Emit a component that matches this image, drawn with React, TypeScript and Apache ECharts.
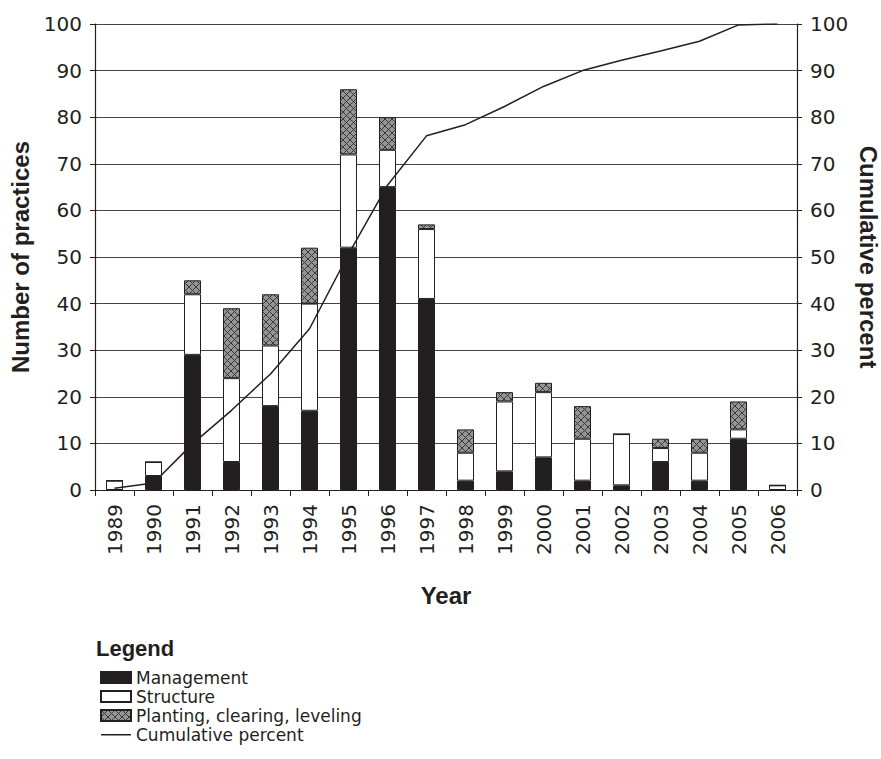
import React, { useEffect, useRef } from "react";
import * as echarts from "echarts";

const years = ["1989","1990","1991","1992","1993","1994","1995","1996","1997","1998","1999","2000","2001","2002","2003","2004","2005","2006"];
const management = [0, 3, 29, 6, 18, 17, 52, 65, 41, 2, 4, 7, 2, 1, 6, 2, 11, 0];
const structure = [2, 3, 13, 18, 13, 23, 20, 8, 15, 6, 15, 14, 9, 11, 3, 6, 2, 1];
const planting = [0, 0, 3, 15, 11, 12, 14, 7, 1, 5, 2, 2, 7, 0, 2, 3, 6, 0];
const cumulativePercent = [0.4, 1.5, 9.9, 17.1, 24.9, 34.6, 50.6, 65.4, 76.0, 78.4, 82.3, 86.6, 90.0, 92.2, 94.2, 96.3, 99.8, 100];
const yTicks = [0, 10, 20, 30, 40, 50, 60, 70, 80, 90, 100];

function makeHatch(): HTMLCanvasElement {
  const c = document.createElement("canvas");
  const s = 7;
  c.width = s;
  c.height = s;
  const ctx = c.getContext("2d")!;
  ctx.fillStyle = "#959595";
  ctx.fillRect(0, 0, s, s);
  ctx.strokeStyle = "#3a3a3a";
  ctx.lineWidth = 1;
  ctx.beginPath();
  ctx.moveTo(0, 0);
  ctx.lineTo(s, s);
  ctx.moveTo(s, 0);
  ctx.lineTo(0, s);
  ctx.stroke();
  return c;
}

export default function App() {
  const ref = useRef<HTMLDivElement>(null);
  useEffect(() => {
    if (!ref.current) return;
    const chart = echarts.init(ref.current, undefined, { renderer: "svg" });
    const ink = "#231f20";
    const tickFont = "DejaVu Sans";
    const titleFont = "Liberation Sans";
    const hatch = makeHatch();
    const yAxisBase = {
      type: "value" as const,
      min: yTicks[0],
      max: yTicks[yTicks.length - 1],
      interval: 10,
      nameLocation: "middle" as const,
      nameTextStyle: { fontFamily: titleFont, fontWeight: "bold" as const, fontSize: 24, color: ink },
      axisLine: { show: true, lineStyle: { color: ink, width: 1.2 } },
      axisTick: { show: true, length: 5, lineStyle: { color: ink } },
      axisLabel: { fontFamily: tickFont, fontSize: 20, color: ink, margin: 13 },
    };
    const lineIcon = "path://M0,5 L30,5 L30,6.4 L0,6.4 Z M0,0 L0.01,0 L0.01,0.01 Z M0,11 L0.01,11 L0.01,10.99 Z";
    chart.setOption({
      animation: false,
      backgroundColor: "#ffffff",
      grid: { left: 95, right: 84, top: 24, bottom: 269, outerBoundsMode: "none", containLabel: false },
      graphic: [
        {
          type: "text",
          left: 96,
          top: 637,
          style: { text: "Legend", font: "bold 22px 'Liberation Sans'", fill: ink },
        },
      ],
      legend: {
        orient: "vertical",
        left: 95,
        top: 664,
        itemWidth: 30,
        itemHeight: 11,
        itemGap: 2,
        textStyle: { fontFamily: tickFont, fontSize: 17, color: ink, padding: [0, 0, 0, 0] },
        data: [
          { name: "Management", icon: "rect" },
          { name: "Structure", icon: "rect" },
          { name: "Planting, clearing, leveling", icon: "rect" },
          { name: "Cumulative percent", icon: lineIcon, itemStyle: { color: ink, borderWidth: 0 } },
        ],
      },
      xAxis: {
        type: "category",
        data: years,
        name: "Year",
        nameLocation: "middle",
        nameGap: 93,
        nameTextStyle: { fontFamily: titleFont, fontWeight: "bold", fontSize: 24, color: ink },
        axisLine: { show: true, lineStyle: { color: ink, width: 1.2 } },
        axisTick: { show: true, length: 6, interval: 0, lineStyle: { color: ink } },
        axisLabel: { rotate: 90, interval: 0, fontFamily: tickFont, fontSize: 20, color: ink, margin: 14 },
      },
      yAxis: [
        {
          ...yAxisBase,
          name: "Number of practices",
          nameGap: 63,
          position: "left",
          splitLine: { show: true, lineStyle: { color: "#444444", width: 1 } },
        },
        {
          ...yAxisBase,
          name: "Cumulative percent",
          nameGap: 59,
          nameMoveOverlap: false,
          nameRotate: -90,
          position: "right",
          splitLine: { show: false },
        },
      ],
      series: [
        {
          name: "Management",
          type: "bar",
          stack: "total",
          barWidth: 17,
          data: management,
          itemStyle: { color: ink, borderColor: ink, borderWidth: 1 },
        },
        {
          name: "Structure",
          type: "bar",
          stack: "total",
          barWidth: 17,
          data: structure,
          itemStyle: { color: "#ffffff", borderColor: ink, borderWidth: 1 },
        },
        {
          name: "Planting, clearing, leveling",
          type: "bar",
          stack: "total",
          barWidth: 17,
          data: planting,
          itemStyle: { color: { image: hatch, repeat: "repeat" }, borderColor: ink, borderWidth: 1 },
        },
        {
          name: "Cumulative percent",
          type: "line",
          yAxisIndex: 1,
          data: cumulativePercent,
          symbol: "none",
          lineStyle: { color: ink, width: 1.5 },
          itemStyle: { color: ink },
          z: 5,
        },
      ],
    });
    return () => chart.dispose();
  }, []);
  return (
    <div
      ref={ref}
      style={{ position: "fixed", left: 0, top: 0, width: 881, height: 759, background: "#fff" }}
    />
  );
}
